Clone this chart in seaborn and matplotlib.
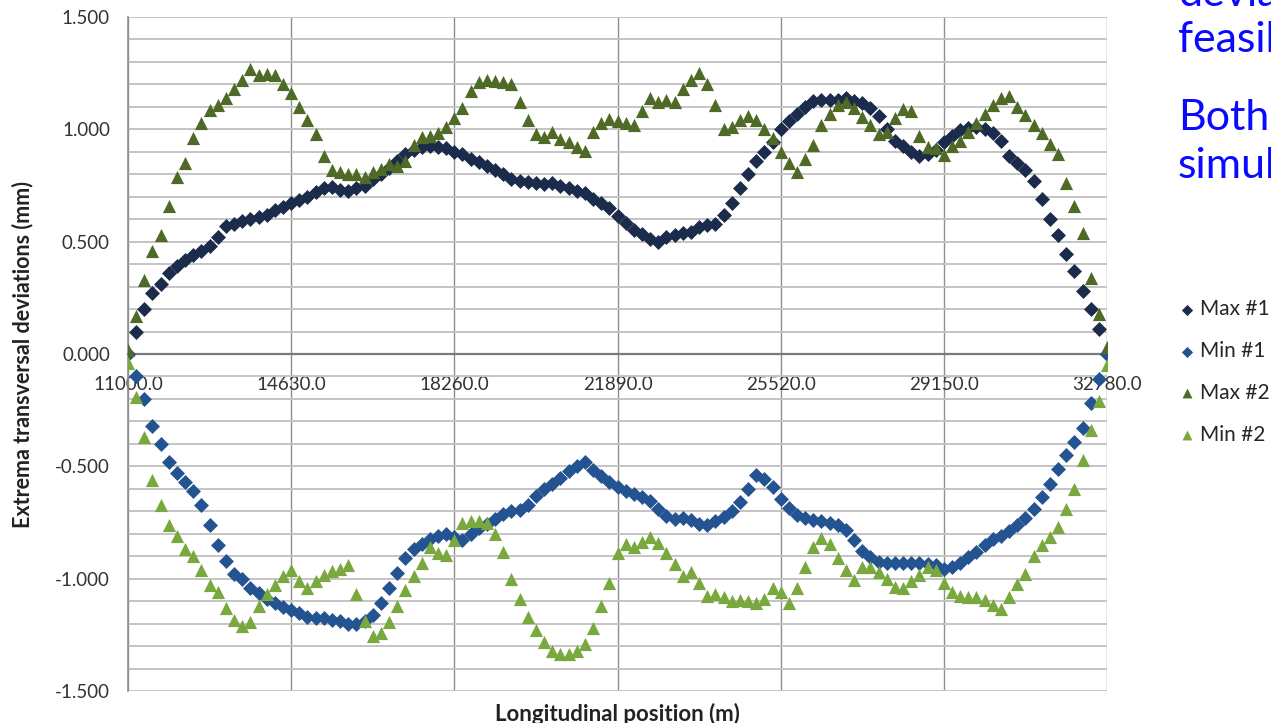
import numpy as np
import pandas as pd
import matplotlib
matplotlib.use('Agg')
import matplotlib.pyplot as plt
from matplotlib.ticker import MultipleLocator, FormatStrFormatter
import seaborn as sns

sns.set_style('white')
plt.rcParams['font.family'] = ['Lato', 'DejaVu Sans']

# values, evenly spaced stations from 11000 to 32780 m
max1 = [0.0, 0.10, 0.20, 0.27, 0.31, 0.36, 0.39, 0.42, 0.44, 0.46,
        0.48, 0.52, 0.57, 0.58, 0.59, 0.60, 0.61, 0.62, 0.64, 0.655,
        0.67, 0.685, 0.70, 0.72, 0.74, 0.745, 0.73, 0.725, 0.74, 0.75,
        0.78, 0.80, 0.83, 0.86, 0.89, 0.91, 0.92, 0.925, 0.92, 0.915,
        0.90, 0.89, 0.87, 0.855, 0.835, 0.82, 0.80, 0.78, 0.77, 0.765,
        0.76, 0.755, 0.76, 0.75, 0.74, 0.725, 0.715, 0.69, 0.67, 0.65,
        0.615, 0.585, 0.55, 0.535, 0.51, 0.50, 0.52, 0.53, 0.54, 0.545,
        0.565, 0.575, 0.58, 0.62, 0.67, 0.74, 0.80, 0.86, 0.90, 0.945,
        1.00, 1.035, 1.07, 1.10, 1.125, 1.13, 1.13, 1.13, 1.14, 1.125,
        1.115, 1.095, 1.06, 1.00, 0.95, 0.925, 0.90, 0.88, 0.89, 0.91,
        0.945, 0.97, 0.995, 1.005, 1.01, 1.00, 0.985, 0.95, 0.88, 0.85,
        0.82, 0.77, 0.69, 0.60, 0.53, 0.445, 0.37, 0.28, 0.20, 0.11,
        0.0]

min1 = [0.0, -0.10, -0.20, -0.32, -0.40, -0.48, -0.53, -0.57, -0.61, -0.67,
        -0.76, -0.85, -0.92, -0.98, -1.00, -1.04, -1.065, -1.09, -1.11, -1.125,
        -1.14, -1.155, -1.17, -1.175, -1.175, -1.185, -1.19, -1.20, -1.20, -1.19,
        -1.16, -1.11, -1.04, -0.975, -0.91, -0.87, -0.845, -0.825, -0.81, -0.80,
        -0.815, -0.83, -0.80, -0.775, -0.755, -0.735, -0.71, -0.70, -0.695, -0.67,
        -0.63, -0.60, -0.58, -0.55, -0.52, -0.50, -0.48, -0.515, -0.545, -0.57,
        -0.59, -0.61, -0.625, -0.635, -0.655, -0.69, -0.72, -0.735, -0.73, -0.74,
        -0.755, -0.76, -0.745, -0.725, -0.70, -0.66, -0.60, -0.54, -0.555, -0.59,
        -0.645, -0.685, -0.715, -0.73, -0.74, -0.745, -0.75, -0.76, -0.785, -0.83,
        -0.875, -0.905, -0.925, -0.93, -0.93, -0.93, -0.93, -0.93, -0.935, -0.94,
        -0.955, -0.95, -0.93, -0.905, -0.88, -0.85, -0.825, -0.81, -0.79, -0.76,
        -0.73, -0.69, -0.635, -0.58, -0.51, -0.45, -0.39, -0.33, -0.22, -0.11,
        0.0]

max2 = [0.02, 0.17, 0.33, 0.46, 0.53, 0.66, 0.79, 0.85, 0.96, 1.03,
        1.085, 1.11, 1.14, 1.18, 1.22, 1.27, 1.24, 1.245, 1.24, 1.20,
        1.16, 1.10, 1.04, 0.98, 0.88, 0.82, 0.81, 0.80, 0.80, 0.79,
        0.81, 0.825, 0.845, 0.835, 0.86, 0.93, 0.965, 0.97, 0.985, 1.01,
        1.05, 1.095, 1.17, 1.21, 1.22, 1.215, 1.21, 1.20, 1.12, 1.04,
        0.98, 0.965, 0.99, 0.955, 0.945, 0.92, 0.905, 0.99, 1.03, 1.045,
        1.035, 1.03, 1.02, 1.08, 1.14, 1.12, 1.13, 1.12, 1.18, 1.22,
        1.25, 1.20, 1.11, 1.00, 1.01, 1.04, 1.06, 1.04, 1.00, 0.96,
        0.90, 0.85, 0.81, 0.87, 0.93, 1.02, 1.07, 1.11, 1.12, 1.095,
        1.055, 1.02, 0.98, 0.99, 1.05, 1.09, 1.08, 0.97, 0.92, 0.915,
        0.885, 0.925, 0.95, 0.99, 1.03, 1.07, 1.11, 1.14, 1.15, 1.10,
        1.065, 1.02, 0.985, 0.935, 0.89, 0.76, 0.66, 0.54, 0.34, 0.18,
        0.03]

min2 = [-0.04, -0.19, -0.37, -0.56, -0.67, -0.76, -0.81, -0.87, -0.90, -0.96,
        -1.03, -1.06, -1.13, -1.185, -1.21, -1.195, -1.12, -1.07, -1.03, -0.99,
        -0.96, -1.01, -1.04, -1.01, -0.985, -0.965, -0.955, -0.94, -1.07, -1.19,
        -1.255, -1.24, -1.195, -1.12, -1.05, -0.99, -0.93, -0.86, -0.885, -0.895,
        -0.83, -0.75, -0.745, -0.745, -0.75, -0.80, -0.88, -1.00, -1.09, -1.17,
        -1.23, -1.28, -1.32, -1.335, -1.335, -1.32, -1.29, -1.22, -1.12, -1.02,
        -0.885, -0.845, -0.86, -0.835, -0.815, -0.84, -0.885, -0.935, -0.99, -0.97,
        -1.02, -1.075, -1.07, -1.08, -1.10, -1.095, -1.10, -1.11, -1.09, -1.04,
        -1.06, -1.11, -1.04, -0.95, -0.86, -0.82, -0.845, -0.91, -0.96, -1.005,
        -0.95, -0.95, -0.97, -1.00, -1.035, -1.04, -1.01, -0.985, -0.95, -0.96,
        -1.02, -1.06, -1.075, -1.08, -1.08, -1.095, -1.115, -1.135, -1.08, -1.025,
        -0.98, -0.90, -0.85, -0.815, -0.77, -0.69, -0.60, -0.47, -0.34, -0.21,
        -0.05]

x_start, x_end = 11000.0, 32780.0
x_ticks = [11000.0, 14630.0, 18260.0, 21890.0, 25520.0, 29150.0, 32780.0]

series = ['Max #1', 'Min #1', 'Max #2', 'Min #2']
values = [max1, min1, max2, min2]
colors = ['#1b2b4b', '#245391', '#4f6a26', '#79a83e']
markers = ['D', 'D', '^', '^']
sizes = [58, 58, 90, 90]

frames = []
for name, vals in zip(series, values):
    frames.append(pd.DataFrame({'position': np.linspace(x_start, x_end, len(vals)),
                                'deviation': vals, 'series': name}))
df = pd.concat(frames, ignore_index=True)

fig = plt.figure(figsize=(12.71, 7.23), dpi=100)
ax = fig.add_axes([128 / 1271, 1 - 691 / 723, 979 / 1271, 674 / 723])

for name, col, mk, sz in zip(series, colors, markers, sizes):
    sns.scatterplot(data=df[df['series'] == name], x='position', y='deviation',
                    color=col, marker=mk, s=sz, linewidth=0, label=name,
                    ax=ax, zorder=3, legend=False)

ax.set_xlim(x_start, x_end)
ax.set_ylim(-1.5, 1.5)

# grid: light horizontal lines every 0.1, darker verticals at the tick stations
ax.yaxis.set_major_locator(MultipleLocator(0.5))
ax.yaxis.set_minor_locator(MultipleLocator(0.1))
ax.yaxis.set_major_formatter(FormatStrFormatter('%.3f'))
ax.set_xticks(x_ticks)
ax.xaxis.set_major_formatter(FormatStrFormatter('%.1f'))
ax.grid(axis='y', which='both', color='#c4c4c4', linewidth=1.4)
ax.grid(axis='x', which='major', color='#8e8e8e', linewidth=1.0)
ax.set_axisbelow(True)

# x axis crosses at zero like the Excel chart
for side in ['top', 'right']:
    ax.spines[side].set_visible(False)
ax.spines['left'].set_color('#8e8e8e')
ax.spines['left'].set_linewidth(1.2)
ax.spines['bottom'].set_position(('data', 0))
ax.spines['bottom'].set_color('#7a7a7a')
ax.spines['bottom'].set_linewidth(1.6)
ax.tick_params(axis='x', length=0, pad=16, labelsize=13.5, labelcolor='#333333')
ax.tick_params(axis='y', which='both', length=0, pad=13, labelsize=13.5, labelcolor='#333333')

ax.set_xlabel('Longitudinal position (m)', fontsize=16, fontweight='bold', color='#222222')
ax.set_ylabel('Extrema transversal deviations (mm)', fontsize=15.5, fontweight='bold',
              color='#222222')
ax.xaxis.set_label_coords(0.5, -0.018)
ax.yaxis.set_label_coords(-0.097, 0.5)

handles, labels = ax.get_legend_handles_labels()
fig.legend(handles, labels, loc='center left', bbox_to_anchor=(1158 / 1271, 1 - 372 / 723),
           frameon=False, fontsize=15, labelspacing=1.05, handletextpad=0.1,
           handlelength=1.0, markerscale=0.75)

# slide text cut off at the right edge, as in the screenshot
blue = '#0a0aff'
fig.text(1178 / 1271, 1 - (-6) / 723, 'deviations', color=blue, fontsize=31, va='center')
fig.text(1178 / 1271, 1 - 40 / 723, 'feasible', color=blue, fontsize=31, va='center')
fig.text(1178 / 1271, 1 - 118 / 723, 'Both', color=blue, fontsize=31, va='center')
fig.text(1178 / 1271, 1 - 166 / 723, 'simulations', color=blue, fontsize=31, va='center')

fig.savefig('out.png', dpi=100)
